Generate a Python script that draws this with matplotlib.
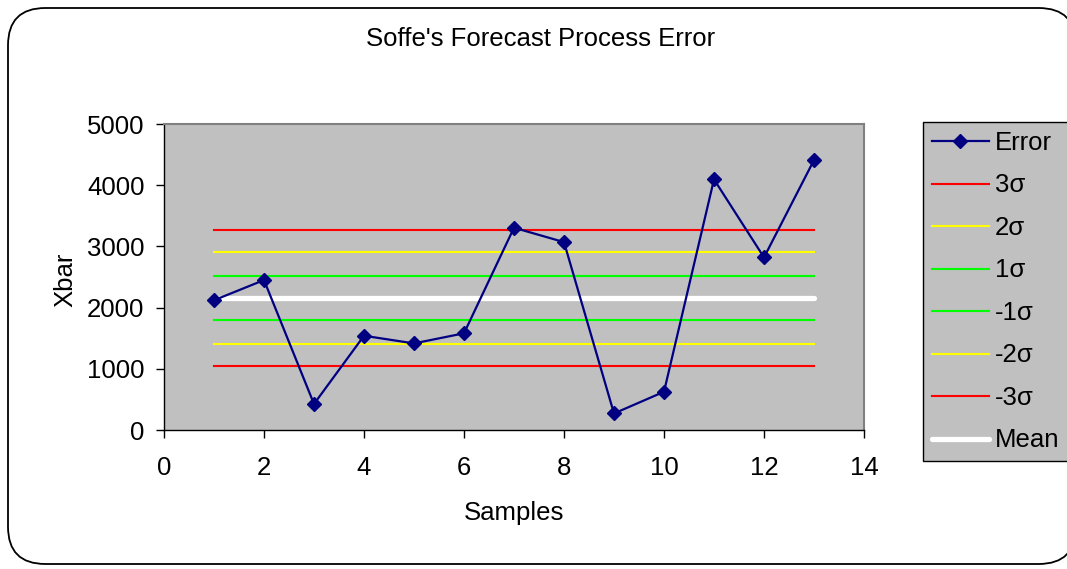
import matplotlib
matplotlib.use("Agg")
import matplotlib.pyplot as plt
from matplotlib.patches import FancyBboxPatch

plt.rcParams['font.family'] = ['Liberation Sans', 'DejaVu Sans']

# data
samples = [1, 2, 3, 4, 5, 6, 7, 8, 9, 10, 11, 12, 13]
error = [2120, 2450, 425, 1540, 1415, 1580, 3305, 3070, 270, 625, 4095, 2820, 4410]
mean_val = 2160
limits = [3275, 2910, 2515, 1800, 1405, 1045]
limit_labels = ['3σ', '2σ', '1σ', '-1σ', '-2σ', '-3σ']
limit_colors = ['#FF0000', '#FFFF00', '#00FF00', '#00FF00', '#FFFF00', '#FF0000']

W, H = 1067, 569
fs = 18.5
fig = plt.figure(figsize=(W / 100, H / 100), dpi=100)

# rounded chart-area border (right side runs just past the image edge)
border = FancyBboxPatch((8 / W, 5 / H), (1076 - 8) / W, (H - 8 - 5) / H,
                        boxstyle="round,pad=0,rounding_size=0.035",
                        transform=fig.transFigure, facecolor='white',
                        edgecolor='black', linewidth=1.3, mutation_aspect=W / H,
                        zorder=-10)
fig.patches.append(border)

ax = fig.add_axes([164 / W, 1 - 430 / H, 700 / W, 306 / H])
ax.set_facecolor('#C0C0C0')

ax.plot(samples, error, color='#000080', lw=1.6, marker='D', ms=7, label='Error', zorder=5)
for val, lab, col in zip(limits, limit_labels, limit_colors):
    ax.plot([samples[0], samples[-1]], [val, val], color=col, lw=1.5, label=lab)
ax.plot([samples[0], samples[-1]], [mean_val, mean_val], color='white', lw=3.8,
        solid_capstyle='round', label='Mean')

ax.set_xlim(0, 14)
ax.set_ylim(0, 5000)
ax.set_xticks(range(0, 15, 2))
ax.set_yticks(range(0, 5001, 1000))
ax.tick_params(direction='out', length=6, width=1, labelsize=fs, color='black')
ax.tick_params(axis='x', pad=13)
ax.tick_params(axis='y', pad=8)
for s in ['top', 'right']:
    ax.spines[s].set_color('#808080')
    ax.spines[s].set_linewidth(1.5)
for s in ['left', 'bottom']:
    ax.spines[s].set_color('black')
    ax.spines[s].set_linewidth(1)

fig.text(541 / W, 1 - 39 / H, "Soffe's Forecast Process Error", ha='center', va='center', fontsize=fs)
fig.text(514 / W, 1 - 513 / H, 'Samples', ha='center', va='center', fontsize=fs)
fig.text(65 / W, 1 - 280 / H, 'Xbar', ha='center', va='center', fontsize=fs, rotation=90)

leg = ax.legend(loc='upper left', bbox_to_anchor=(923 / W, 1 - 122 / H),
                bbox_transform=fig.transFigure, fontsize=fs, frameon=True,
                fancybox=False, facecolor='#C0C0C0', edgecolor='black',
                framealpha=1, handlelength=2.2, handletextpad=0.25,
                labelspacing=0.72, borderpad=0.35, borderaxespad=0)
leg.get_frame().set_linewidth(1)

fig.savefig('out.png', dpi=100)
